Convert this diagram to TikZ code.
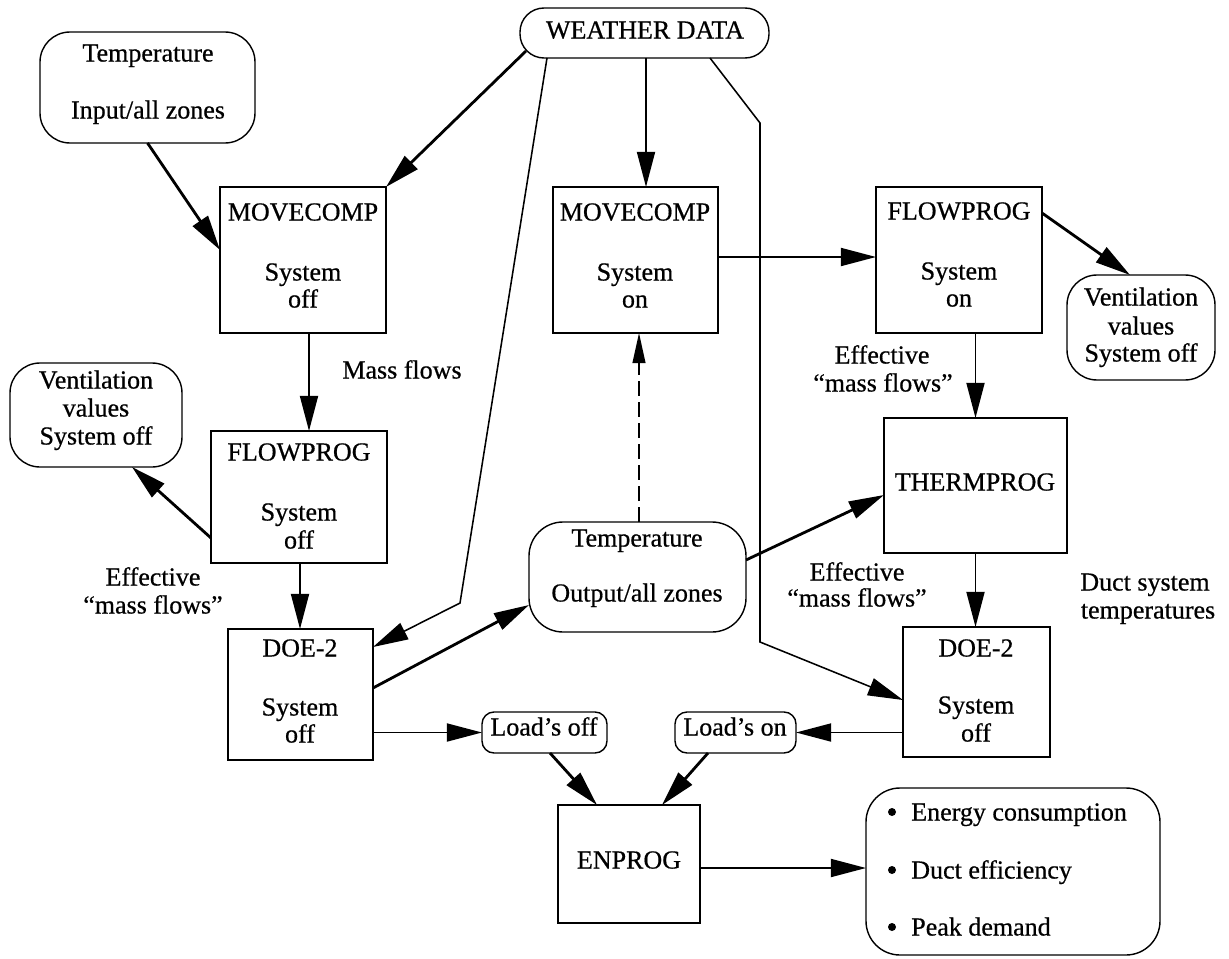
\documentclass[tikz,border=0pt]{standalone}
\usepackage{fontspec}
\setmainfont{Liberation Serif}[FakeBold=0.6]
\usetikzlibrary{arrows.meta,calc,fit}
\begin{document}
\begin{tikzpicture}[x=0.025cm,y=-0.025cm,
  every node/.style={font=\fontsize{18.5}{22}\selectfont},
  >={Triangle[length=0.88cm,width=0.45cm]},
  box/.style={draw,line width=1pt,inner sep=0pt,outer sep=0pt},
  rbox/.style={box,rounded corners=0.75cm},
  sbox/.style={box,rounded corners=0.3cm},
  lbl/.style={inner sep=0pt,text height=0.7em,text depth=0.2em},
  bullet/.style={circle,fill,inner sep=0pt,minimum size=0.2cm},
  con/.style={->,line width=1.4pt},
  bold/.style={->,line width=2pt},
  thinline/.style={line width=1.1pt},
  dashcon/.style={-{Triangle[length=0.75cm,width=0.32cm]},line width=1.1pt,dash pattern=on 0.375cm off 0.15cm}
]
\fill[white] (0,0) rectangle (1229,959);
\useasboundingbox (0,0) rectangle (1229,959);

% boxes
\node[box,rounded corners=0.6cm,fit={(520,8)(769,58)}] (weather) {};
\node[rbox,fit={(40,32)(255,143)}] (tin) {};
\node[box,fit={(220,187)(386,333)}] (mcL) {};
\node[box,fit={(553,187)(718,333)}] (mcC) {};
\node[box,fit={(876,187)(1042,333)}] (fpR) {};
\node[rbox,fit={(1067,275)(1215,380)}] (ventR) {};
\node[rbox,fit={(10,363)(182,467)}] (ventL) {};
\node[box,fit={(211,431)(387,563)}] (fpL) {};
\node[box,fit={(884,418)(1067,553)}] (thermo) {};
\node[rbox,rounded corners=0.85cm,fit={(529,522)(746,632)}] (tout) {};
\node[box,fit={(228,629)(373,760)}] (doeL) {};
\node[box,fit={(903,627)(1050,757)}] (doeR) {};
\node[sbox,fit={(482,712)(607,753)}] (loadoff) {};
\node[sbox,fit={(675,712)(796,753)}] (loadon) {};
\node[box,fit={(558,805)(700,923)}] (enprog) {};
\node[rbox,rounded corners=0.85cm,fit={(866,788)(1160,955)}] (result) {};

% texts
\node[lbl] (tweather) at (645,35) {WEATHER DATA};
\node[lbl] (tin1) at (148,58) {Temperature};
\node[lbl] (tin2) at (148,115) {Input/all zones};
\node[lbl] (mcL1) at (303,217) {MOVECOMP};
\node[lbl] (mcL2) at (303,277) {System};
\node[lbl] (mcL3) at (303,304) {off};
\node[lbl] (mcC1) at (635,217) {MOVECOMP};
\node[lbl] (mcC2) at (635,277) {System};
\node[lbl] (mcC3) at (635,304) {on};
\node[lbl] (fpR1) at (959,216) {FLOWPROG};
\node[lbl] (fpR2) at (959,276) {System};
\node[lbl] (fpR3) at (959,303) {on};
\node[lbl] (ventR1) at (1141,302) {Ventilation};
\node[lbl] (ventR2) at (1141,331) {values};
\node[lbl] (ventR3) at (1141,358) {System off};
\node[lbl] (ventL1) at (96,385) {Ventilation};
\node[lbl] (ventL2) at (96,413) {values};
\node[lbl] (ventL3) at (96,441) {System off};
\node[lbl] (fpL1) at (299,457) {FLOWPROG};
\node[lbl] (fpL2) at (299,517) {System};
\node[lbl] (fpL3) at (299,545) {off};
\node[lbl] (thermo1) at (975,487) {THERMPROG};
\node[lbl] (tout1) at (637,543) {Temperature};
\node[lbl] (tout2) at (637,598) {Output/all zones};
\node[lbl] (doeL1) at (300,653) {DOE-2};
\node[lbl] (doeL2) at (300,712) {System};
\node[lbl] (doeL3) at (300,739) {off};
\node[lbl] (doeR1) at (976,653) {DOE-2};
\node[lbl] (doeR2) at (976,710) {System};
\node[lbl] (doeR3) at (976,738) {off};
\node[lbl] (loadoff1) at (544,732) {Load's off};
\node[lbl] (loadon1) at (735,732) {Load's on};
\node[lbl] (enprog1) at (629,865) {ENPROG};
\node[bullet] (rb1) at (892,812) {};
\node[bullet] (rb2) at (892,870) {};
\node[bullet] (rb3) at (892,927) {};
\node[lbl,anchor=west] (rt1) at (911,817) {Energy consumption};
\node[lbl,anchor=west] (rt2) at (911,875) {Duct efficiency};
\node[lbl,anchor=west] (rt3) at (911,932) {Peak demand};
\node[lbl] (massL) at (402,375) {Mass flows};
\node[lbl] (effL1) at (153,582) {Effective};
\node[lbl] (effL2) at (153,610) {“mass flows”};
\node[lbl] (effR1) at (882,360) {Effective};
\node[lbl] (effR2) at (883,388) {“mass flows”};
\node[lbl] (effT1) at (857,577) {Effective};
\node[lbl] (effT2) at (857,603) {“mass flows”};
\node[lbl] (duct1) at (1145,587) {Duct system};
\node[lbl] (duct2) at (1148,615) {temperatures};

% bend points
\coordinate (bendA) at (460,603);
\coordinate (bendB) at (760,123);
\coordinate (bendC) at (760,642);

% connectors
\draw[bold] (tin.south) -- (mcL.west |- 0,250);
\draw[bold] ($(weather.south west)+(6,-7)$) -- (mcL.north east);
\draw[con] (weather.south -| 646,0) -- (mcC.north -| 646,0);
\draw[thinline,->] ($(weather.south west)+(27,0)$) -- (bendA) -- (doeL.east |- 0,647);
\draw[thinline,->] ($(weather.south east)+(-59,0)$) -- (bendB) -- (bendC) -- (doeR.west |- 0,700);
\draw[con] (mcC.east |- 0,257) -- (fpR.west |- 0,257);
\draw[bold] (fpR.east |- 0,213) -- (ventR.north -| 1130,0);
\draw[con] (mcL.south -| 309,0) -- (fpL.north -| 309,0);
\draw[bold] (fpL.west |- 0,538) -- (ventL.south -| 132,0);
\draw[con] (fpL.south -| 300,0) -- (doeL.north -| 300,0);
\draw[con] (thermo.north |- fpR.south) -- (thermo.north);
\draw[dashcon] (tout.north -| 639,0) -- (mcC.south -| 639,0);
\draw[bold] (tout.east |- 0,560) -- (thermo.west |- 0,495);
\draw[con] (thermo.south) -- (thermo.south |- doeR.north);
\draw[bold] (doeL.east |- 0,688) -- (tout.west |- 0,605);
\draw[con] (doeL.east |- loadoff.west) -- (loadoff.west);
\draw[con] (doeR.west |- loadon.east) -- (loadon.east);
\draw[bold] (loadoff.south -| 550,0) -- (enprog.north -| 597,0);
\draw[bold] (loadon.south -| 708,0) -- (enprog.north -| 662,0);
\draw[con] (enprog.east |- 0,868) -- (result.west |- 0,868);
\end{tikzpicture}
\end{document}
